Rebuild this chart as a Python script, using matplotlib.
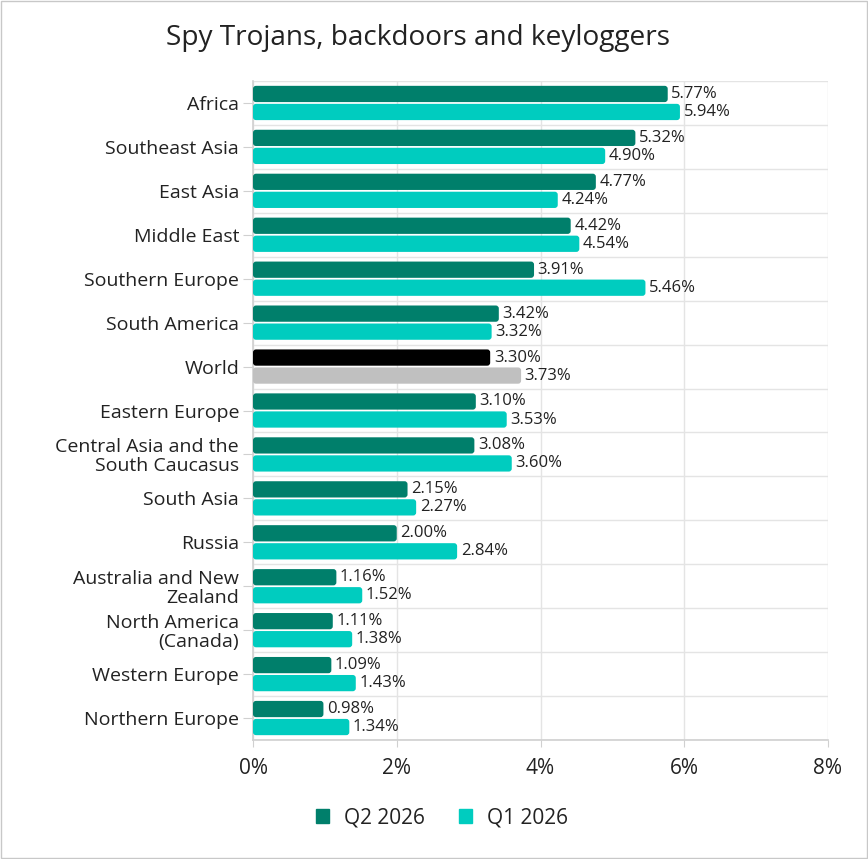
import matplotlib
matplotlib.use("Agg")
import matplotlib.pyplot as plt
import numpy as np
from matplotlib.patches import Patch, FancyBboxPatch

categories = ["Africa", "Southeast Asia", "East Asia", "Middle East", "Southern Europe",
              "South America", "World", "Eastern Europe", "Central Asia and the\nSouth Caucasus",
              "South Asia", "Russia", "Australia and New\nZealand", "North America\n(Canada)",
              "Western Europe", "Northern Europe"]
q2_2026 = [5.77, 5.32, 4.77, 4.42, 3.91, 3.42, 3.30, 3.10, 3.08, 2.15, 2.00, 1.16, 1.11, 1.09, 0.98]
q1_2026 = [5.94, 4.90, 4.24, 4.54, 5.46, 3.32, 3.73, 3.53, 3.60, 2.27, 2.84, 1.52, 1.38, 1.43, 1.34]
x_ticks = [0, 2, 4, 6, 8]

C_Q2 = "#007f6b"
C_Q1 = "#00ccbf"
C_W2 = "#000000"
C_W1 = "#c0c0c0"
TXT = "#222222"

plt.rcParams['font.family'] = ['Open Sans', 'DejaVu Sans']

fig = plt.figure(figsize=(8.68, 8.59), dpi=100)
ax = fig.add_axes([253/868, 1-740/859, (828-253)/868, (740-81)/859])

n = len(categories)
y = np.arange(n)
h = 0.37
off = 0.205
ax.set_ylim(n - 0.5, -0.5)
ax.set_xlim(0, 8)

c2 = [C_W2 if c == "World" else C_Q2 for c in categories]
c1 = [C_W1 if c == "World" else C_Q1 for c in categories]
bars2 = ax.barh(y - off, q2_2026, height=h, color=c2, zorder=3)
bars1 = ax.barh(y + off, q1_2026, height=h, color=c1, zorder=3)

# rounded corners (~3 px)
px_x = 8 / (828 - 253)
px_y = n / (740 - 81)
r = 3 * px_x
aspect = px_y / px_x
for bars in (bars2, bars1):
    for b in bars:
        b.set_visible(False)
        fb = FancyBboxPatch((b.get_x(), b.get_y()), b.get_width(), b.get_height(),
                            boxstyle=f"round,pad=0,rounding_size={r}", mutation_aspect=aspect,
                            facecolor=b.get_facecolor(), edgecolor="none", zorder=3)
        ax.add_patch(fb)

for yi, v in zip(y - off, q2_2026):
    ax.text(v + 0.05, yi, f"{v:.2f}%", va="center", ha="left", fontsize=12, color=TXT)
for yi, v in zip(y + off, q1_2026):
    ax.text(v + 0.05, yi, f"{v:.2f}%", va="center", ha="left", fontsize=12, color=TXT)

ax.set_yticks(y)
ax.set_yticklabels(categories, fontsize=14, color=TXT, linespacing=1.05)
ax.set_xticks(x_ticks)
ax.set_xticklabels([f"{t}%" for t in x_ticks], fontsize=15, color=TXT)
ax.set_yticks(np.arange(n + 1) - 0.5, minor=True)
ax.tick_params(axis="y", which="minor", length=0)
ax.tick_params(axis="y", which="major", length=7, color="#d0d0d0", pad=3)
ax.tick_params(axis="x", which="major", length=5, color="#d0d0d0", pad=8)
ax.grid(axis="x", which="major", color="#e4e4e4", linewidth=1, zorder=0)
ax.grid(axis="y", which="minor", color="#e4e4e4", linewidth=1, zorder=0)
for s in ["top", "right"]:
    ax.spines[s].set_visible(False)
for s in ["left", "bottom"]:
    ax.spines[s].set_color("#d0d0d0")
    ax.spines[s].set_linewidth(1.2)

fig.text(418/868, 1-38/859, "Spy Trojans, backdoors and keyloggers", ha="center", va="center",
         fontsize=20.2, color=TXT)

handles = [Patch(color=C_Q2, label="Q2 2026"), Patch(color=C_Q1, label="Q1 2026")]
fig.legend(handles=handles, loc="center", bbox_to_anchor=(442/868, 1-818/859), ncol=2,
           frameon=False, fontsize=15, handlelength=0.62, handleheight=0.62, columnspacing=1.6,
           handletextpad=0.75, labelcolor=TXT)

fig.patches.append(plt.Rectangle((0.001, 0.001), 0.998, 0.998, transform=fig.transFigure,
                                 fill=False, edgecolor="#c8c8c8", linewidth=1))
fig.savefig("out.png", dpi=100)
